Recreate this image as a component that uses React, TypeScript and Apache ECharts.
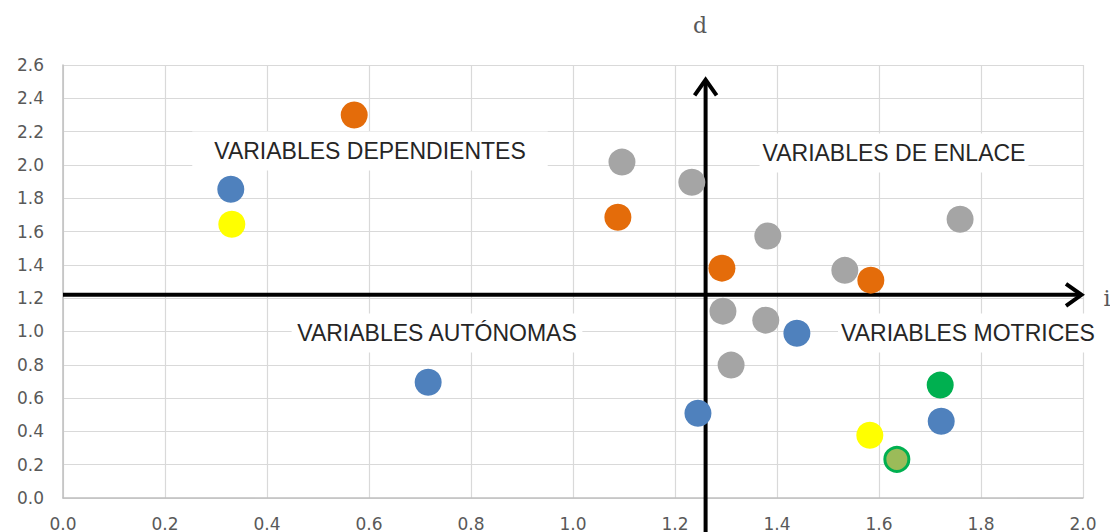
import React, { useEffect, useRef } from "react";
import * as echarts from "echarts";

const xTicks = [0, 0.2, 0.4, 0.6, 0.8, 1.0, 1.2, 1.4, 1.6, 1.8, 2.0];
const yTicks = [0, 0.2, 0.4, 0.6, 0.8, 1.0, 1.2, 1.4, 1.6, 1.8, 2.0, 2.2, 2.4, 2.6];

const orangePts = [
  [0.571, 2.3],
  [1.088, 1.686],
  [1.292, 1.38],
  [1.584, 1.308],
];
const grayPts = [
  [1.096, 2.017],
  [1.233, 1.896],
  [1.382, 1.573],
  [1.759, 1.674],
  [1.533, 1.367],
  [1.294, 1.122],
  [1.378, 1.068],
  [1.31, 0.798],
];
const bluePts = [
  [0.329, 1.854],
  [0.716, 0.695],
  [1.245, 0.509],
  [1.439, 0.989],
  [1.722, 0.461],
];
const yellowPts = [
  [0.331, 1.644],
  [1.582, 0.377],
];
const greenPts = [[1.72, 0.678]];
const olivePts = [[1.635, 0.232]];

// quadrant axes (annotation arrows): [fromX, fromY, tipX, tipY]
const crossX = 1.26;
const crossY = 1.22;
const arrows = [
  [0, crossY, 2.0, crossY],
  [crossX, -0.22, crossX, 2.52],
];

const quadrantLabels = [
  { text: "VARIABLES DEPENDIENTES", x: 370, y: 151, padH: 22 },
  { text: "VARIABLES DE ENLACE", x: 894, y: 153, padH: 3 },
  { text: "VARIABLES AUTÓNOMAS", x: 437, y: 333, padH: 5 },
  { text: "VARIABLES MOTRICES", x: 968, y: 333, padH: 3 },
];

export default function App() {
  const ref = useRef<HTMLDivElement>(null);
  useEffect(() => {
    if (!ref.current) return;
    const chart = echarts.init(ref.current, null, { renderer: "svg" });
    const sym = 27;
    const scatter = (name: string, data: number[][], color: string, extra: any = {}) => ({
      name,
      type: "scatter",
      data,
      symbolSize: sym,
      z: 3,
      itemStyle: { color, opacity: 1, ...extra },
    });
    const axisLabel = {
      color: "#595959",
      fontSize: 17,
      fontFamily: "DejaVu Sans",
      formatter: (v: number) => v.toFixed(1),
    };
    chart.setOption({
      animation: false,
      backgroundColor: "#ffffff",
      grid: { left: 63, right: 27, top: 65, bottom: 34, containLabel: false },
      xAxis: {
        type: "value",
        min: xTicks[0],
        max: xTicks[xTicks.length - 1],
        interval: 0.2,
        axisLine: { show: true, onZero: false, lineStyle: { color: "#BFBFBF", width: 1.5 } },
        axisTick: { show: false },
        splitLine: { show: true, lineStyle: { color: "#D9D9D9", width: 1.2 } },
        axisLabel: { ...axisLabel, margin: 17 },
      },
      yAxis: {
        type: "value",
        min: yTicks[0],
        max: yTicks[yTicks.length - 1],
        interval: 0.2,
        axisLine: { show: true, onZero: false, lineStyle: { color: "#BFBFBF", width: 1.5 } },
        axisTick: { show: false },
        splitLine: { show: true, lineStyle: { color: "#D9D9D9", width: 1.2 } },
        axisLabel: { ...axisLabel, margin: 19 },
      },
      graphic: [
        ...quadrantLabels.map((q) => ({
          type: "text",
          x: q.x,
          y: q.y,
          z: 2,
          style: {
            text: q.text,
            fontSize: 23,
            fontFamily: "Liberation Sans",
            fill: "#262626",
            align: "center",
            verticalAlign: "middle",
            backgroundColor: "#ffffff",
            padding: [8, q.padH],
          },
        })),
        {
          type: "text",
          x: 700,
          y: 25,
          style: {
            text: "d",
            fontSize: 22,
            fontFamily: "DejaVu Serif",
            fill: "#595959",
            align: "center",
            verticalAlign: "middle",
          },
        },
        {
          type: "text",
          x: 1107,
          y: 298,
          style: {
            text: "i",
            fontSize: 22,
            fontFamily: "DejaVu Serif",
            fill: "#595959",
            align: "center",
            verticalAlign: "middle",
          },
        },
      ],
      series: [
        {
          name: "axes",
          type: "custom",
          data: arrows,
          z: 1,
          clip: false,
          silent: true,
          encode: { x: [0, 2], y: [1, 3] },
          renderItem: (params: any, api: any) => {
            const p1 = api.coord([api.value(0), api.value(1)]);
            const t = api.coord([api.value(2), api.value(3)]);
            const dx = t[0] - p1[0];
            const dy = t[1] - p1[1];
            const len = Math.sqrt(dx * dx + dy * dy);
            const ux = dx / len;
            const uy = dy / len;
            const nx = -uy;
            const ny = ux;
            const back = 17;
            const half = 11;
            const a1 = [t[0] - back * ux + half * nx, t[1] - back * uy + half * ny];
            const a2 = [t[0] - back * ux - half * nx, t[1] - back * uy - half * ny];
            const style = { stroke: "#000000", lineWidth: 4, fill: null, lineJoin: "miter", lineCap: "butt" };
            return {
              type: "group",
              children: [
                {
                  type: "line",
                  shape: { x1: p1[0], y1: p1[1], x2: t[0] - 2 * ux, y2: t[1] - 2 * uy },
                  style,
                },
                {
                  type: "polyline",
                  shape: { points: [a1, [t[0] - 1.5 * ux, t[1] - 1.5 * uy], a2] },
                  style,
                },
              ],
            };
          },
        },
        scatter("orange", orangePts, "#E46C0A"),
        scatter("gray", grayPts, "#A5A5A5"),
        scatter("blue", bluePts, "#4F81BD"),
        scatter("yellow", yellowPts, "#FFFF00"),
        scatter("green", greenPts, "#00B050"),
        { ...scatter("olive", olivePts, "#9BBB59", { borderColor: "#00B050", borderWidth: 3 }), symbolSize: 24 },
      ],
    });
    return () => chart.dispose();
  }, []);
  return (
    <div
      ref={ref}
      style={{ position: "fixed", left: 0, top: 0, width: 1110, height: 532, background: "#fff" }}
    />
  );
}
